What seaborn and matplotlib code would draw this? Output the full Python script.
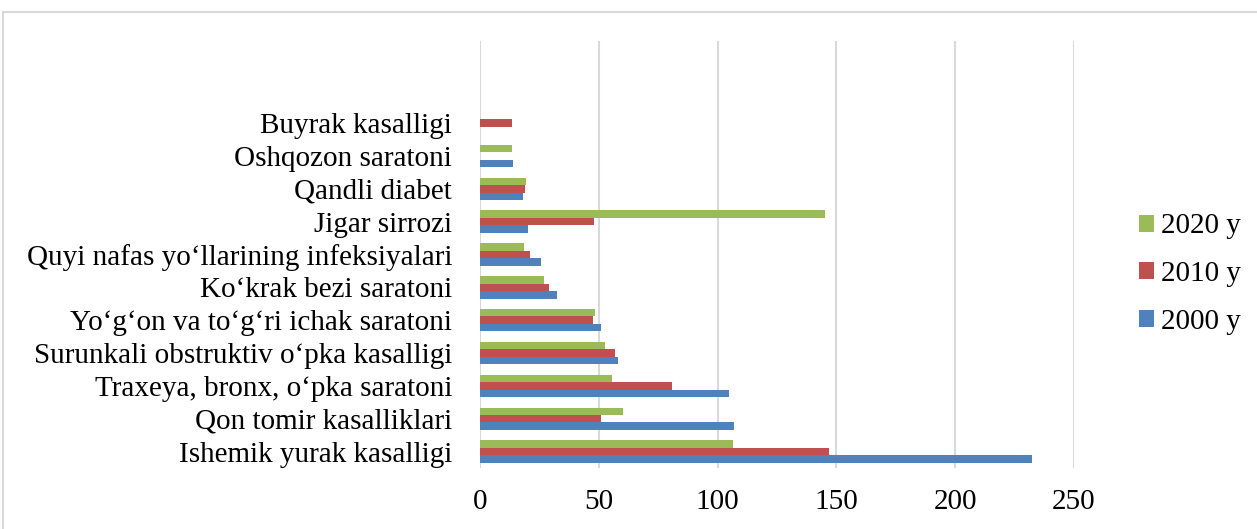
import numpy as np
import pandas as pd
import matplotlib
matplotlib.use("Agg")
import matplotlib.pyplot as plt
from matplotlib.patches import Rectangle
import seaborn as sns

# kasalliklar (yuqoridan pastga)
categories = [
    "Buyrak kasalligi",
    "Oshqozon saratoni",
    "Qandli diabet",
    "Jigar sirrozi",
    "Quyi nafas yo‘llarining infeksiyalari",
    "Ko‘krak bezi saratoni",
    "Yo‘g‘on va to‘g‘ri ichak saratoni",
    "Surunkali obstruktiv o‘pka kasalligi",
    "Traxeya, bronx, o‘pka saratoni",
    "Qon tomir kasalliklari",
    "Ishemik yurak kasalligi",
]

years = ["2020 y", "2010 y", "2000 y"]
vals_2020 = [np.nan, 13.5, 19.2, 145, 18.5, 27, 48.5, 52.8, 55.7, 60, 106.5]
vals_2010 = [13.5, np.nan, 19, 48, 21, 29, 47.6, 56.7, 81, 51, 147]
vals_2000 = [np.nan, 14, 18.2, 20.3, 25.5, 32.6, 51, 58, 105, 106.8, 232.5]

colors = ["#9BBB59", "#C0504D", "#4F81BD"]
xticks = [0, 50, 100, 150, 200, 250]

df = pd.DataFrame({
    "kasallik": categories * 3,
    "yil": [years[0]] * 11 + [years[1]] * 11 + [years[2]] * 11,
    "qiymat": vals_2020 + vals_2010 + vals_2000,
})

sns.set_style("white")
plt.rcParams["font.family"] = ["Liberation Serif", "DejaVu Serif"]
plt.rcParams["text.color"] = "black"
plt.rcParams["xtick.color"] = "black"
plt.rcParams["ytick.color"] = "black"

fig = plt.figure(figsize=(12.57, 5.29), dpi=100)
ax = fig.add_axes([480 / 1257, 1 - 468 / 529, (1074 - 480) / 1257, (468 - 41) / 529])

sns.barplot(data=df, y="kasallik", x="qiymat", hue="yil", order=categories,
            hue_order=years, palette=colors, orient="h", width=0.68, gap=0,
            saturation=1, linewidth=0, ax=ax, zorder=3)

ax.set_xlim(0, 250)
ax.set_ylim(len(categories) - 0.5, -2.5)
ax.set_xticks(xticks)
ax.set_xticklabels([str(t) for t in xticks])
ax.set_xlabel("")
ax.set_ylabel("")
for s in ax.spines.values():
    s.set_visible(False)
ax.grid(axis="x", color="#D9D9D9", linewidth=1.5, zorder=0)
ax.grid(axis="y", visible=False)
ax.tick_params(axis="x", length=0, pad=15, labelsize=21, colors="black")
ax.tick_params(axis="y", length=0, pad=20, labelsize=21, colors="black")

handles, labels = ax.get_legend_handles_labels()
leg = ax.legend(handles, labels, loc="center left", bbox_to_anchor=(1139 / 1257, 1 - 274 / 529),
                bbox_transform=fig.transFigure, frameon=False, fontsize=21,
                handlelength=0.52, handleheight=0.52, handletextpad=0.22,
                labelspacing=0.74, borderpad=0, borderaxespad=0)
for t in leg.get_texts():
    t.set_color("black")

# tashqi ramka
fig.patches.append(Rectangle((3 / 1257, -0.05), 1.1, 1 - 12 / 529 + 0.05,
                             transform=fig.transFigure, fill=False,
                             edgecolor="#D9D9D9", linewidth=1.5))

fig.savefig("out.png", dpi=100)
